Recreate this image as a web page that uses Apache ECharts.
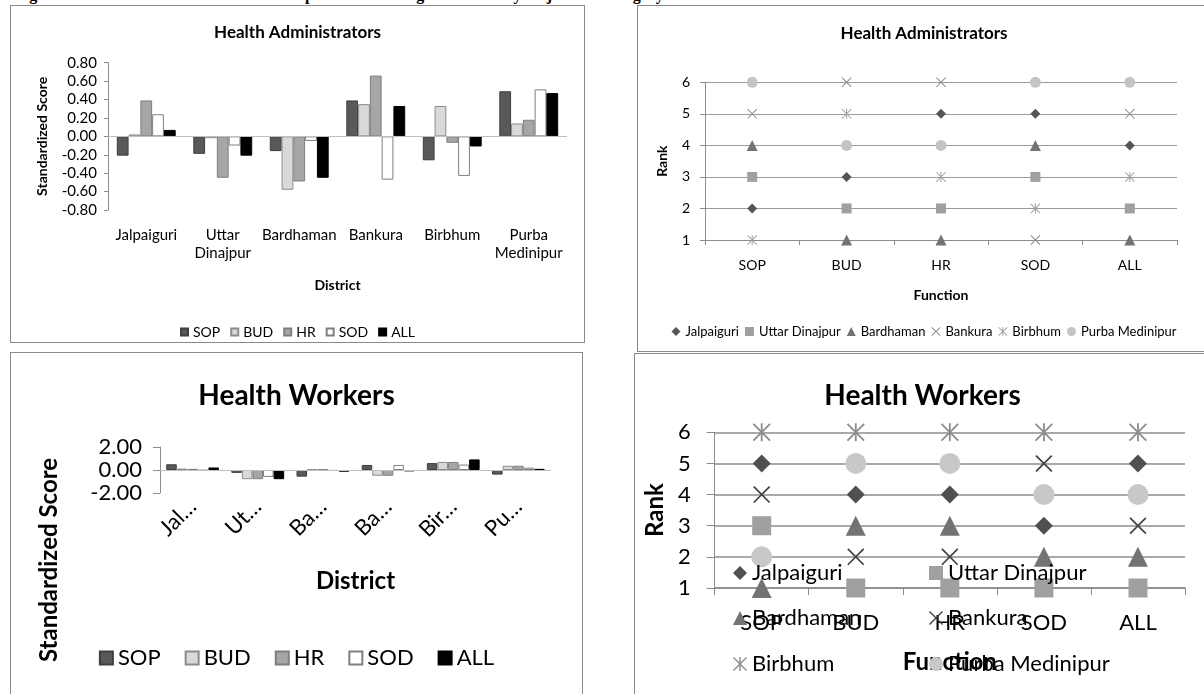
<!DOCTYPE html>
<html>
<head>
<meta charset="utf-8">
<script src="https://cdn.jsdelivr.net/npm/echarts@6/dist/echarts.min.js"></script>
<style>
  html, body { margin: 0; padding: 0; background: #fff; width: 1204px; height: 694px; overflow: hidden; position: relative; }
  .panel { position: absolute; border: 1px solid #8a8a8a; box-sizing: border-box; background: #fff; }
  .panel > div { position: absolute; left: 0; top: 0; right: 0; bottom: 0; }
  #caption { position: absolute; left: 15px; top: -14.5px; font: bold 16px "Liberation Serif", "DejaVu Serif", serif; white-space: nowrap; color: #000; line-height: 18.4px; }
</style>
</head>
<body>
<div id="caption">Figure 3: Standardized scores of decision space and ranking of districts by major staff category</div>
<div class="panel" style="left:10px; top:5px; width:575px; height:338px;"><div id="adminScores"></div></div>
<div class="panel" style="left:637px; top:5px; width:574px; height:347px;"><div id="adminRanks"></div></div>
<div class="panel" style="left:10px; top:352px; width:573px; height:360px;"><div id="workerScores"></div></div>
<div class="panel" style="left:634px; top:353px; width:577px; height:360px;"><div id="workerRanks"></div></div>

<script>
// ---- data -------------------------------------------------------------
const FUNCTIONS = ['SOP', 'BUD', 'HR', 'SOD', 'ALL'];
const DISTRICTS = ['Jalpaiguri', 'Uttar Dinajpur', 'Bardhaman', 'Bankura', 'Birbhum', 'Purba Medinipur'];
const WORKER_TICKS = ['Jal…', 'Ut…', 'Ba…', 'Ba…', 'Bir…', 'Pu…'];

// Health administrators: standardized score per district
const adminSOP = [-0.21, -0.19, -0.16, 0.39, -0.26, 0.49];
const adminBUD = [0.02, -0.02, -0.58, 0.35, 0.33, 0.14];
const adminHR  = [0.39, -0.45, -0.49, 0.66, -0.07, 0.18];
const adminSOD = [0.24, -0.10, -0.05, -0.47, -0.43, 0.51];
const adminALL = [0.07, -0.21, -0.45, 0.33, -0.11, 0.47];

// Health workers: standardized score per district
const workerSOP = [0.50, -0.25, -0.58, 0.44, 0.60, -0.40];
const workerBUD = [0.12, -0.80, 0.08, -0.50, 0.70, 0.37];
const workerHR  = [0.10, -0.80, 0.05, -0.50, 0.70, 0.37];
const workerSOD = [-0.05, -0.60, -0.08, 0.44, 0.47, 0.20];
const workerALL = [0.22, -0.80, -0.15, -0.12, 0.92, 0.10];

// Health administrators: rank of each district per function (SOP, BUD, HR, SOD, ALL)
const adminRankJalpaiguri    = [2, 3, 5, 5, 4];
const adminRankUttarDinajpur = [3, 2, 2, 3, 2];
const adminRankBardhaman     = [4, 1, 1, 4, 1];
const adminRankBankura       = [5, 6, 6, 1, 5];
const adminRankBirbhum       = [1, 5, 3, 2, 3];
const adminRankPurba         = [6, 4, 4, 6, 6];

// Health workers: rank of each district per function
const workerRankJalpaiguri    = [5, 4, 4, 3, 5];
const workerRankUttarDinajpur = [3, 1, 1, 1, 1];
const workerRankBardhaman     = [1, 3, 3, 2, 2];
const workerRankBankura       = [4, 2, 2, 5, 3];
const workerRankBirbhum       = [6, 6, 6, 6, 6];
const workerRankPurba         = [2, 5, 5, 4, 4];

// ---- styling ----------------------------------------------------------
const FONT = 'Lato';
const AXIS_GREY = '#8c8c8c';
const BAR_FILL = ['#595959', '#d9d9d9', '#a6a6a6', '#ffffff', '#000000'];
const BAR_EDGE = ['#3f3f3f', '#8c8c8c', '#7f7f7f', '#7f7f7f', '#000000'];

// cross and asterisk markers drawn as filled strips
const CROSS = 'path://M0,7L7,0L100,93L93,100Z M93,0L100,7L7,100L0,93Z';
const STAR = 'path://M0,7L7,0L100,93L93,100Z M93,0L100,7L7,100L0,93Z M45,0L55,0L55,100L45,100Z';
const MARKERS = ['diamond', 'rect', 'triangle', CROSS, STAR, 'circle'];

function barSeries(scores, gap) {
  return FUNCTIONS.map((f, i) => {
    const s = {
      name: f, type: 'bar', data: scores[i], barGap: '0%', barCategoryGap: gap,
      itemStyle: { color: BAR_FILL[i], borderColor: BAR_EDGE[i], borderWidth: 1 },
      emphasis: { disabled: true }
    };
    if (i === 0) {
      s.markLine = {
        silent: true, symbol: 'none', label: { show: false }, animation: false,
        lineStyle: { color: '#bfbfbf', width: 1, type: 'solid' },
        data: [{ yAxis: 0 }]
      };
    }
    return s;
  });
}

function rankSeries(ranks, sizes, colors) {
  return DISTRICTS.map((d, i) => ({
    name: d, type: 'scatter', data: ranks[i], symbol: MARKERS[i], symbolSize: sizes[i],
    itemStyle: { color: colors[i], opacity: 1 }, emphasis: { disabled: true }
  }));
}

function bold(size) { return { fontFamily: FONT, fontWeight: 'bold', fontSize: size, color: '#000' }; }

// ---- Health administrators: scores ------------------------------------
echarts.init(document.getElementById('adminScores')).setOption({
  animation: false,
  textStyle: { fontFamily: FONT, color: '#000' },
  title: { text: 'Health Administrators', left: 'center', top: 13, textStyle: bold(17) },
  grid: { left: 97, top: 56.7, width: 459, height: 147.3 },
  legend: {
    top: 314, left: 'center', itemWidth: 7, itemHeight: 7, itemGap: 10, icon: 'rect',
    textStyle: { fontFamily: FONT, fontSize: 14, color: '#000' }, data: FUNCTIONS
  },
  xAxis: {
    type: 'category', data: DISTRICTS,
    axisLine: { show: false }, axisTick: { show: false },
    axisLabel: { interval: 0, margin: 16, fontSize: 15, lineHeight: 18, color: '#000', formatter: v => v.replace(' ', '\n') },
    name: 'District', nameLocation: 'middle', nameGap: 68, nameTextStyle: bold(14)
  },
  yAxis: {
    type: 'value', min: -0.8, max: 0.8, interval: 0.2,
    axisLine: { show: true, lineStyle: { color: AXIS_GREY } },
    axisTick: { show: true, length: 4, lineStyle: { color: AXIS_GREY } },
    splitLine: { show: false },
    axisLabel: { margin: 11, fontSize: 15, color: '#000', formatter: v => v.toFixed(2) },
    name: 'Standardized Score', nameLocation: 'middle', nameRotate: 90, nameGap: 59, nameTextStyle: bold(14)
  },
  series: barSeries([adminSOP, adminBUD, adminHR, adminSOD, adminALL], '23%')
});

// ---- Health administrators: ranks -------------------------------------
echarts.init(document.getElementById('adminRanks')).setOption({
  animation: false,
  textStyle: { fontFamily: FONT, color: '#000' },
  title: { text: 'Health Administrators', left: 'center', top: 14, textStyle: bold(17) },
  grid: { left: 67, top: 76.3, width: 472, height: 157.7 },
  legend: {
    top: 314, left: 'center', itemWidth: 9, itemHeight: 9, itemGap: 6,
    textStyle: { fontFamily: FONT, fontSize: 13, color: '#000' }, data: DISTRICTS
  },
  xAxis: {
    type: 'category', data: FUNCTIONS,
    axisLine: { lineStyle: { color: AXIS_GREY } },
    axisTick: { show: true, length: 5, lineStyle: { color: AXIS_GREY } },
    axisLabel: { margin: 18, fontSize: 14, color: '#000' },
    name: 'Function', nameLocation: 'middle', nameGap: 48, nameTextStyle: bold(14)
  },
  yAxis: {
    type: 'value', min: 1, max: 6, interval: 1,
    axisLine: { show: true, lineStyle: { color: AXIS_GREY } },
    axisTick: { show: true, length: 5, lineStyle: { color: AXIS_GREY } },
    splitLine: { show: true, lineStyle: { color: '#9a9a9a', width: 1 } },
    axisLabel: { margin: 15, fontSize: 14, color: '#000' },
    name: 'Rank', nameLocation: 'middle', nameRotate: 90, nameGap: 36, nameTextStyle: bold(14)
  },
  series: rankSeries(
    [adminRankJalpaiguri, adminRankUttarDinajpur, adminRankBardhaman, adminRankBankura, adminRankBirbhum, adminRankPurba],
    [10, 10, 11, 10, 10, 11],
    ['#555555', '#a0a0a0', '#737373', '#8c8c8c', '#a0a0a0', '#c4c4c4'])
});

// ---- Health workers: scores -------------------------------------------
echarts.init(document.getElementById('workerScores')).setOption({
  animation: false,
  textStyle: { fontFamily: FONT, color: '#000' },
  title: { text: 'Health Workers', left: 'center', top: 24, textStyle: bold(28) },
  grid: { left: 149, top: 94, width: 391, height: 46 },
  legend: {
    top: 289, left: 'center', itemWidth: 13, itemHeight: 13, itemGap: 24, icon: 'rect',
    textStyle: { fontFamily: FONT, fontSize: 22, color: '#000' }, data: FUNCTIONS
  },
  xAxis: {
    type: 'category', data: DISTRICTS,
    axisLine: { show: false }, axisTick: { show: false },
    axisLabel: { interval: 0, rotate: 45, margin: 10, fontSize: 22, color: '#000', formatter: (v, i) => WORKER_TICKS[i] },
    name: 'District', nameLocation: 'middle', nameGap: 76, nameTextStyle: bold(24)
  },
  yAxis: {
    type: 'value', min: -2, max: 2, interval: 2,
    axisLine: { show: true, lineStyle: { color: AXIS_GREY } },
    axisTick: { show: true, length: 7, lineStyle: { color: AXIS_GREY } },
    splitLine: { show: false },
    axisLabel: { margin: 18, fontSize: 22, color: '#000', formatter: v => v.toFixed(2) }
  },
  graphic: [{
    type: 'text', x: 38, y: 207, rotation: Math.PI / 2,
    style: { text: 'Standardized Score', font: 'bold 24px Lato', fill: '#000', textAlign: 'center', textVerticalAlign: 'middle' }
  }],
  series: barSeries([workerSOP, workerBUD, workerHR, workerSOD, workerALL], '19%')
});

// ---- Health workers: ranks --------------------------------------------
const workerLegendSlots = [[93, 203], [289, 203], [93, 248], [289, 248], [93, 294], [289, 294]];
echarts.init(document.getElementById('workerRanks')).setOption({
  animation: false,
  textStyle: { fontFamily: FONT, color: '#000' },
  title: { text: 'Health Workers', left: 'center', top: 23, textStyle: bold(28) },
  grid: { left: 78, top: 78.3, width: 472, height: 155.7 },
  legend: DISTRICTS.map((d, i) => ({
    left: workerLegendSlots[i][0], top: workerLegendSlots[i][1], itemWidth: 14, itemHeight: 14,
    textStyle: { fontFamily: FONT, fontSize: 22, color: '#000' }, data: [d]
  })),
  xAxis: {
    type: 'category', data: FUNCTIONS,
    axisLine: { lineStyle: { color: AXIS_GREY, width: 1.5 } },
    axisTick: { show: true, length: 7, lineStyle: { color: AXIS_GREY } },
    axisLabel: { margin: 24, fontSize: 22, color: '#000' },
    name: 'Function', nameLocation: 'middle', nameGap: 62, nameTextStyle: bold(24)
  },
  yAxis: {
    type: 'value', min: 1, max: 6, interval: 1,
    axisLine: { show: true, lineStyle: { color: AXIS_GREY } },
    axisTick: { show: true, length: 8, lineStyle: { color: AXIS_GREY } },
    splitLine: { show: true, lineStyle: { color: '#8c8c8c', width: 1.5 } },
    axisLabel: { margin: 24, fontSize: 22, color: '#000' },
    name: 'Rank', nameLocation: 'middle', nameRotate: 90, nameGap: 47, nameTextStyle: bold(24)
  },
  series: rankSeries(
    [workerRankJalpaiguri, workerRankUttarDinajpur, workerRankBardhaman, workerRankBankura, workerRankBirbhum, workerRankPurba],
    [18, 19, 20, 17, 18, 21],
    ['#505050', '#a0a0a0', '#737373', '#404040', '#8c8c8c', '#c8c8c8'])
});
</script>
</body>
</html>
